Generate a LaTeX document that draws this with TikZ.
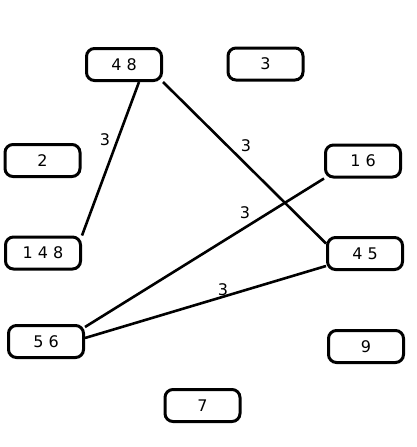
\documentclass[tikz,border=0pt]{standalone}
\usepackage{fontspec}
\setmainfont{DejaVu Sans}
\begin{document}
\begin{tikzpicture}[x=1pt,y=-1pt,
  box/.style={draw=black, line width=3pt, rounded corners=8pt, minimum width=75pt, minimum height=32pt, inner sep=0pt, font=\fontsize{16}{18}\selectfont},
  edge/.style={draw=black, line width=2.6pt},
  wlabel/.style={inner sep=0pt, font=\fontsize{16}{18}\selectfont}]
\useasboundingbox (0,0) rectangle (416,447);
\node[box] (n48) at (124,64.5) {4 8};
\node[box] (n3) at (265.5,64) {3};
\node[box] (n2) at (42.5,160.5) {2};
\node[box] (n148) at (43,253) {1 4 8};
\node[box] (n16) at (363,161) {1 6};
\node[box] (n45) at (365,253.5) {4 5};
\node[box] (n56) at (46,341.5) {5 6};
\node[box] (n9) at (366,346.5) {9};
\node[box] (n7) at (202.5,405.5) {7};
\draw[edge] ([xshift=15pt]n48.south) -- (n148.north east);
\draw[edge] (n48.south east) -- ([yshift=10pt]n45.west);
\draw[edge] (n16.south west) -- ([yshift=-3pt]n56.north east);
\draw[edge] ([yshift=-12.5pt]n45.west) -- ([yshift=3.5pt]n56.east);
\node[wlabel] (l1) at (105,140) {3};
\node[wlabel] (l2) at (246,146) {3};
\node[wlabel] (l3) at (245,213) {3};
\node[wlabel] (l4) at (223,290) {3};
\end{tikzpicture}
\end{document}
